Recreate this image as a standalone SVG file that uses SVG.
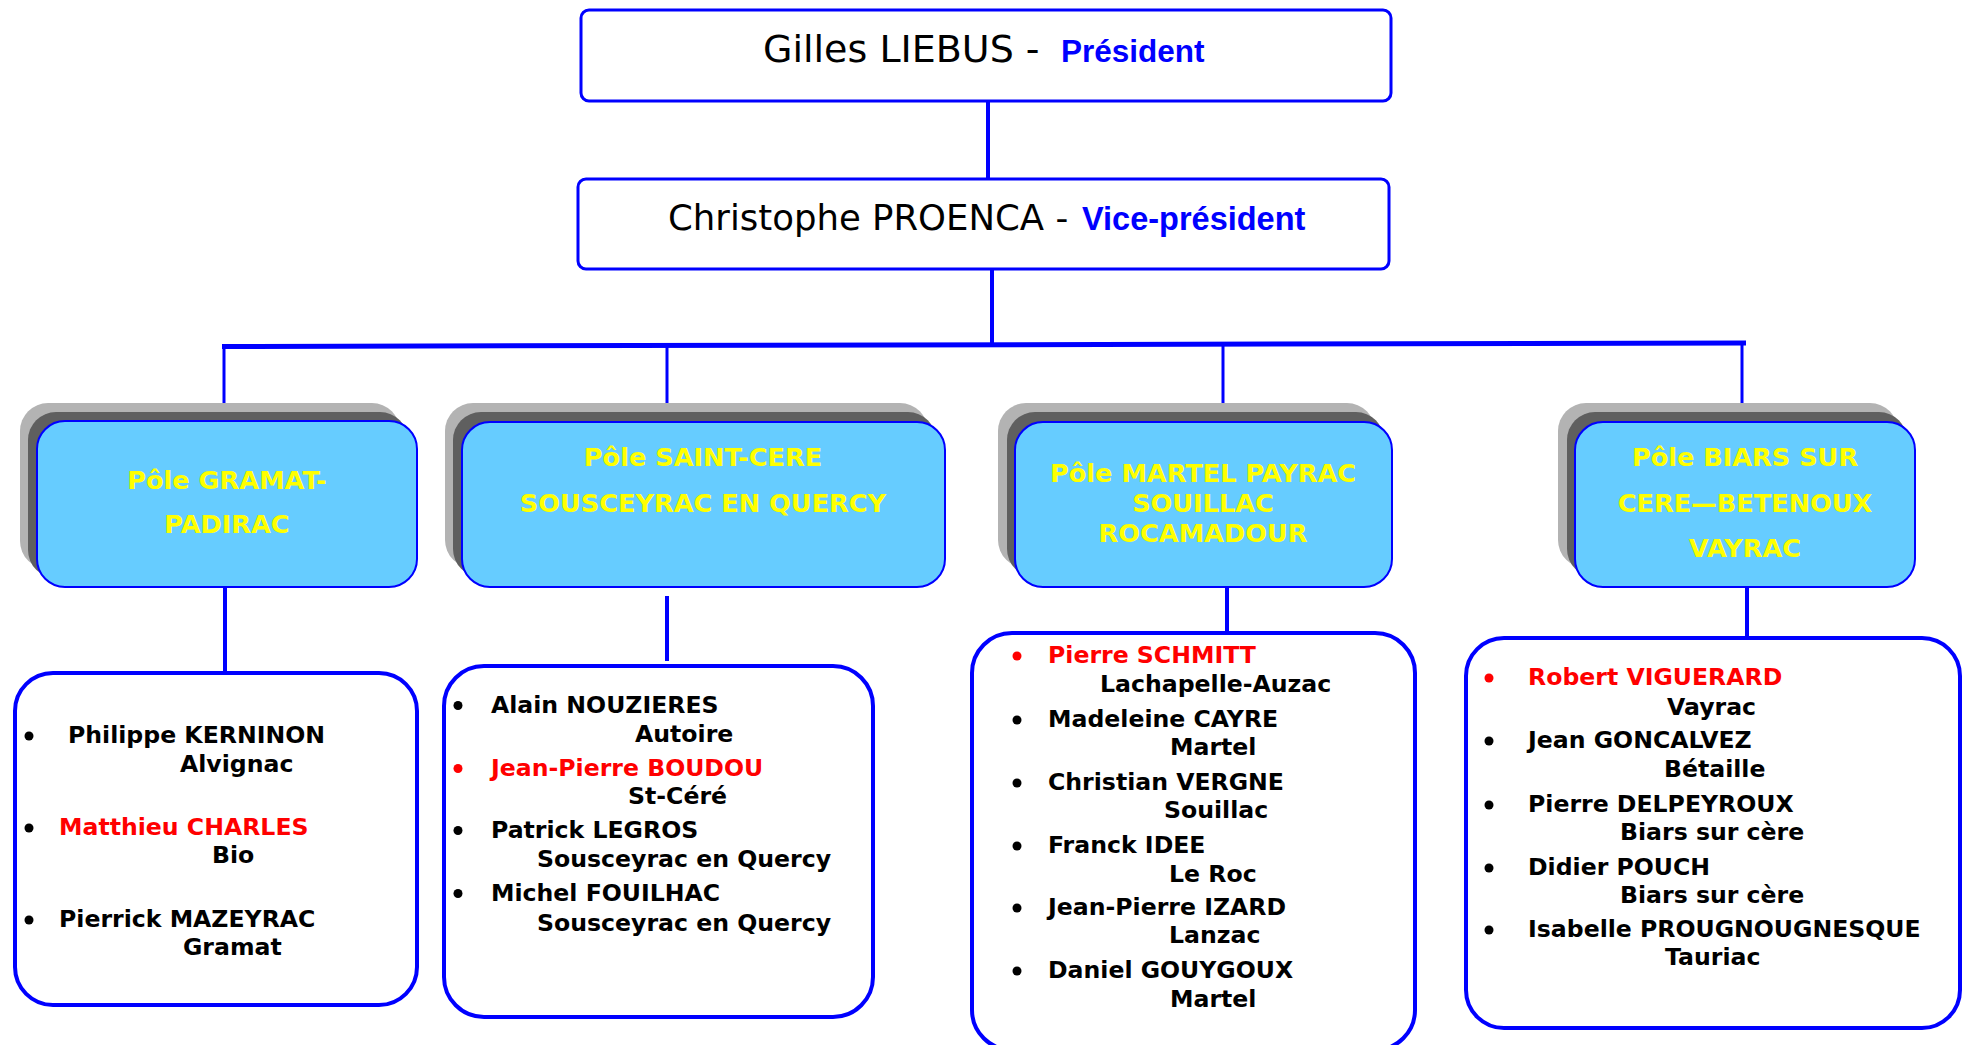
<svg xmlns="http://www.w3.org/2000/svg" width="1966" height="1045" viewBox="0 0 1966 1045">
<style>
.top{fill:#fff;stroke:#0000ff;stroke-width:3}
.sh1{fill:#b3b3b3}
.sh2{fill:#5f5f5f}
.pole{fill:#66ccff;stroke:#0000ff;stroke-width:2}
.list{fill:#fff;stroke:#0000ff;stroke-width:4}
.pt{font-family:"DejaVu Sans",sans-serif;font-weight:bold;font-size:25.6px;fill:#ffff00;text-anchor:middle}
.lt{font-family:"DejaVu Sans",sans-serif;font-weight:bold;font-size:23.6px;fill:#000}
.red{fill:#ff0000}
.hn{font-family:"DejaVu Sans",sans-serif;fill:#000}
.ht{font-family:"Liberation Sans",Arial,sans-serif;font-weight:bold;fill:#0000ff}
.b{fill:#000}
.br{fill:#ff0000}
.c{stroke:#0000ff;fill:none}
</style>
<g id="connectors">
<line class="c" x1="988" y1="101" x2="988" y2="179" stroke-width="4"/>
<line class="c" x1="992" y1="269" x2="992" y2="345" stroke-width="4"/>
<line class="c" x1="222" y1="346.5" x2="1746" y2="343" stroke-width="5"/>
<line class="c" x1="224" y1="346" x2="224" y2="421" stroke-width="3"/>
<line class="c" x1="667" y1="345" x2="667" y2="422" stroke-width="3"/>
<line class="c" x1="1223" y1="344" x2="1223" y2="422" stroke-width="3"/>
<line class="c" x1="1742" y1="343" x2="1742" y2="422" stroke-width="3"/>
<line class="c" x1="225" y1="587" x2="225" y2="673" stroke-width="4"/>
<line class="c" x1="667" y1="596" x2="667" y2="661" stroke-width="4"/>
<line class="c" x1="1227" y1="587" x2="1227" y2="633" stroke-width="4"/>
<line class="c" x1="1747" y1="587" x2="1747" y2="638" stroke-width="4"/>
</g>
<g id="president">
<rect class="top" x="581" y="10" width="810" height="91" rx="8"/>
<text x="763" y="62" class="hn" font-size="38">Gilles LIEBUS -</text>
<text x="1061" y="62" class="ht" font-size="31.5">Président</text>
</g>
<g id="vice-president">
<rect class="top" x="578" y="179" width="811" height="90" rx="8"/>
<text x="668" y="230" class="hn" font-size="35.5">Christophe PROENCA -</text>
<text x="1082" y="230" class="ht" font-size="32.5">Vice-président</text>
</g>
<g id="pole-gramat">
<rect class="sh1" x="20" y="403" width="380" height="166" rx="28"/>
<rect class="sh2" x="28" y="412" width="380" height="166" rx="28"/>
<rect class="pole" x="37" y="421" width="380" height="166" rx="28"/>
<text class="pt" x="227" y="489">Pôle GRAMAT-</text>
<text class="pt" x="227" y="533">PADIRAC</text>
</g>
<g id="pole-saint-cere">
<rect class="sh1" x="445" y="403" width="483" height="165" rx="28"/>
<rect class="sh2" x="453" y="412" width="483" height="165" rx="28"/>
<rect class="pole" x="462" y="422" width="483" height="165" rx="28"/>
<text class="pt" x="703" y="466">Pôle SAINT-CERE</text>
<text class="pt" x="703" y="512">SOUSCEYRAC EN QUERCY</text>
</g>
<g id="pole-martel">
<rect class="sh1" x="998" y="403" width="377" height="165" rx="28"/>
<rect class="sh2" x="1007" y="412" width="377" height="165" rx="28"/>
<rect class="pole" x="1015" y="422" width="377" height="165" rx="28"/>
<text class="pt" x="1203" y="482">Pôle MARTEL PAYRAC</text>
<text class="pt" x="1203" y="512">SOUILLAC</text>
<text class="pt" x="1203" y="542">ROCAMADOUR</text>
</g>
<g id="pole-biars">
<rect class="sh1" x="1558" y="403" width="340" height="165" rx="28"/>
<rect class="sh2" x="1567" y="412" width="340" height="165" rx="28"/>
<rect class="pole" x="1575" y="422" width="340" height="165" rx="28"/>
<text class="pt" x="1745" y="466">Pôle BIARS SUR</text>
<text class="pt" x="1745" y="512">CERE—BETENOUX</text>
<text class="pt" x="1745" y="557">VAYRAC</text>
</g>
<g id="list-gramat">
<rect class="list" x="15" y="673" width="402" height="332" rx="38"/>
<circle class="b" cx="29" cy="736" r="4.5"/>
<circle class="b" cx="29" cy="828" r="4.5"/>
<circle class="b" cx="29" cy="920" r="4.5"/>
<text class="lt" x="68" y="743">Philippe KERNINON</text>
<text class="lt" x="180" y="772">Alvignac</text>
<text class="lt red" x="59" y="835">Matthieu CHARLES</text>
<text class="lt" x="212" y="863">Bio</text>
<text class="lt" x="59" y="927">Pierrick MAZEYRAC</text>
<text class="lt" x="183" y="955">Gramat</text>
</g>
<g id="list-saint-cere">
<rect class="list" x="444" y="666" width="429" height="351" rx="40"/>
<circle class="b" cx="458" cy="705.5" r="4.5"/>
<circle class="br" cx="458" cy="768.5" r="4.5"/>
<circle class="b" cx="458" cy="830.5" r="4.5"/>
<circle class="b" cx="458" cy="893.5" r="4.5"/>
<text class="lt" x="491" y="713">Alain NOUZIERES</text>
<text class="lt" x="635" y="742">Autoire</text>
<text class="lt red" x="491" y="776">Jean-Pierre BOUDOU</text>
<text class="lt" x="628" y="804">St-Céré</text>
<text class="lt" x="491" y="838">Patrick LEGROS</text>
<text class="lt" x="537" y="867">Sousceyrac en Quercy</text>
<text class="lt" x="491" y="901">Michel FOUILHAC</text>
<text class="lt" x="537" y="931">Sousceyrac en Quercy</text>
</g>
<g id="list-martel">
<rect class="list" x="972" y="633" width="443" height="417" rx="40"/>
<circle class="br" cx="1017" cy="656" r="4.5"/>
<circle class="b" cx="1017" cy="720" r="4.5"/>
<circle class="b" cx="1017" cy="783" r="4.5"/>
<circle class="b" cx="1017" cy="846" r="4.5"/>
<circle class="b" cx="1017" cy="908" r="4.5"/>
<circle class="b" cx="1017" cy="971" r="4.5"/>
<text class="lt red" x="1048" y="663">Pierre SCHMITT</text>
<text class="lt" x="1100" y="692">Lachapelle-Auzac</text>
<text class="lt" x="1048" y="727">Madeleine CAYRE</text>
<text class="lt" x="1170" y="755">Martel</text>
<text class="lt" x="1048" y="790">Christian VERGNE</text>
<text class="lt" x="1164" y="818">Souillac</text>
<text class="lt" x="1048" y="853">Franck IDEE</text>
<text class="lt" x="1169" y="882">Le Roc</text>
<text class="lt" x="1048" y="915">Jean-Pierre IZARD</text>
<text class="lt" x="1169" y="943">Lanzac</text>
<text class="lt" x="1048" y="978">Daniel GOUYGOUX</text>
<text class="lt" x="1170" y="1007">Martel</text>
</g>
<g id="list-biars">
<rect class="list" x="1466" y="638" width="494" height="390" rx="38"/>
<circle class="br" cx="1489" cy="678" r="4.5"/>
<circle class="b" cx="1489" cy="741" r="4.5"/>
<circle class="b" cx="1489" cy="805" r="4.5"/>
<circle class="b" cx="1489" cy="868" r="4.5"/>
<circle class="b" cx="1489" cy="930" r="4.5"/>
<text class="lt red" x="1528" y="685">Robert VIGUERARD</text>
<text class="lt" x="1667" y="715">Vayrac</text>
<text class="lt" x="1528" y="748">Jean GONCALVEZ</text>
<text class="lt" x="1664" y="777">Bétaille</text>
<text class="lt" x="1528" y="812">Pierre DELPEYROUX</text>
<text class="lt" x="1620" y="840">Biars sur cère</text>
<text class="lt" x="1528" y="875">Didier POUCH</text>
<text class="lt" x="1620" y="903">Biars sur cère</text>
<text class="lt" x="1528" y="937">Isabelle PROUGNOUGNESQUE</text>
<text class="lt" x="1665" y="965">Tauriac</text>
</g>
</svg>
